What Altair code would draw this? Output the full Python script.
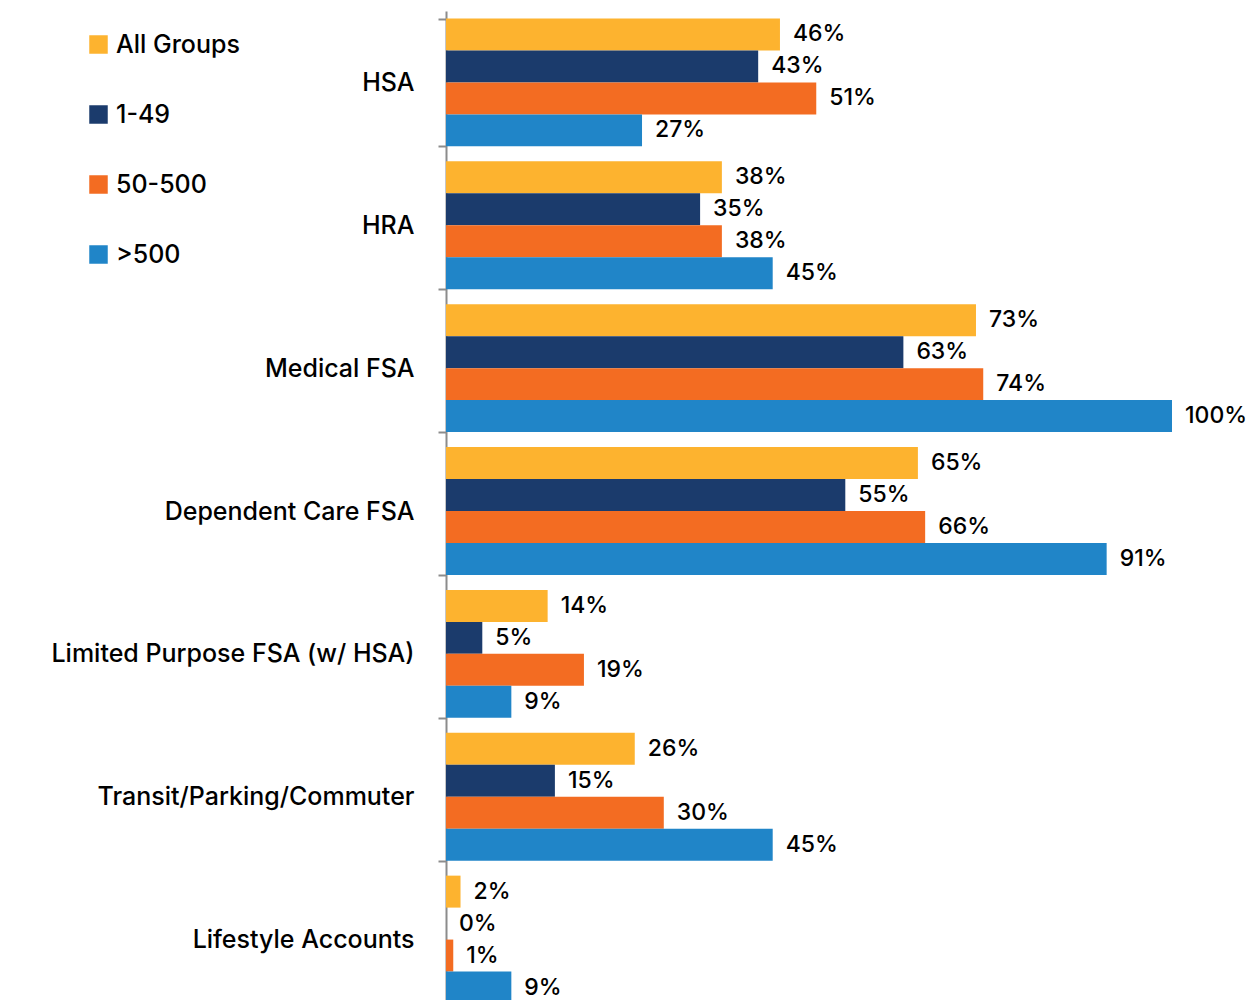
import altair as alt
import pandas as pd

categories = ["HSA", "HRA", "Medical FSA", "Dependent Care FSA",
              "Limited Purpose FSA (w/ HSA)", "Transit/Parking/Commuter",
              "Lifestyle Accounts"]
groups = ["All Groups", "1-49", "50-500", ">500"]
all_groups = [46, 38, 73, 65, 14, 26, 2]
g_1_49 = [43, 35, 63, 55, 5, 15, 0]
g_50_500 = [51, 38, 74, 66, 19, 30, 1]
g_500 = [27, 45, 100, 91, 9, 45, 9]
colors = ["#FDB32F", "#1B3B6C", "#F36C22", "#2085C8"]

rows = []
for series, name in zip([all_groups, g_1_49, g_50_500, g_500], groups):
    for cat, v in zip(categories, series):
        rows.append({"category": cat, "group": name, "value": v, "label": f"{v}%"})
df = pd.DataFrame(rows)

FONT = "Inter"
FS = 25

y = alt.Y("category:N", sort=categories, title=None,
          scale=alt.Scale(paddingInner=0.105, paddingOuter=0.0525),
          axis=alt.Axis(tickBand="extent", tickSize=8, tickColor="#8c8c8c",
                        tickWidth=2, domainColor="#8c8c8c", domainWidth=2,
                        labelFontSize=FS, labelColor="#000000", labelFont=FONT,
                        labelFontWeight=500, labelPadding=24, labelLimit=500))
yoff = alt.YOffset("group:N", sort=groups,
                   scale=alt.Scale(paddingInner=0, paddingOuter=0))
x = alt.X("value:Q", scale=alt.Scale(domain=[0, 100], nice=False), axis=None)

base = alt.Chart(df)
bars = base.mark_bar().encode(
    y=y, yOffset=yoff, x=x,
    color=alt.Color("group:N", sort=groups,
                    scale=alt.Scale(domain=groups, range=colors),
                    legend=alt.Legend(orient="none", legendX=-360, legendY=21,
                                      direction="vertical", title=None,
                                      labelFontSize=FS, labelFont=FONT,
                                      labelFontWeight=500, labelColor="#000000",
                                      symbolType="square", symbolSize=342,
                                      symbolStrokeWidth=0, rowPadding=44,
                                      labelOffset=5)),
)
labels = base.mark_text(align="left", baseline="middle", dx=13, fontSize=23,
                        font=FONT, fontWeight=500, color="#000000").encode(
    y=y, yOffset=yoff, x=x, text="label:N")

chart = (bars + labels).properties(
    width=726, height=1000,
    autosize=alt.AutoSizeParams(type="none"),
    padding={"left": 438, "top": 3, "right": 76, "bottom": -11},
).configure_view(stroke=None)

chart.save("out.html", embed_options={"renderer": "svg", "actions": False})
